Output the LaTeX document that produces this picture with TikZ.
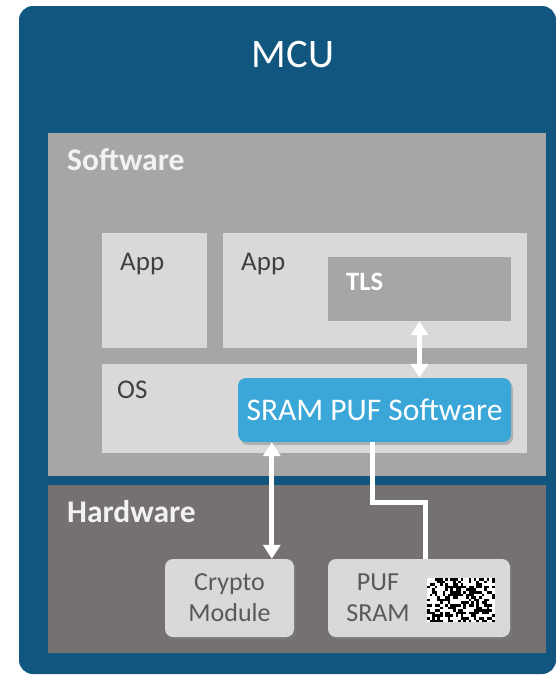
\documentclass[tikz,border=0pt]{standalone}
\usepackage{fontspec}
\setmainfont{Carlito}
\usetikzlibrary{arrows.meta,shadows,calc}
\definecolor{mcublue}{RGB}{17,86,127}
\definecolor{swgray}{RGB}{166,166,166}
\definecolor{hwgray}{RGB}{118,113,113}
\definecolor{boxgray}{RGB}{217,217,217}
\definecolor{txtgray}{RGB}{64,64,64}
\definecolor{modgray}{RGB}{89,89,89}
\definecolor{pufblue}{RGB}{58,167,216}

\tikzset{
  panel/.style={fill=#1, draw=none, inner sep=0pt},
  layer/.style={fill=boxgray, draw=none, inner sep=0pt},
  module/.style={fill=boxgray, draw=none, rounded corners=8pt, inner sep=0pt,
    drop shadow={opacity=0.45, shadow xshift=2pt, shadow yshift=-3pt},
    text=modgray, align=center, font=\fontsize{26}{31}\selectfont},
  tag/.style={anchor=base west, inner sep=0pt, text=txtgray, font=\fontsize{27}{32}\selectfont},
  heading/.style={anchor=base west, inner sep=0pt, text=white!95!black, font=\fontsize{31.5}{38}\selectfont\bfseries},
  wire/.style={draw=white, line width=5pt}
}

\begin{document}
\begin{tikzpicture}[x=1pt,y=-1pt,>={Triangle[width=17pt,length=14pt]}]
\useasboundingbox (0,0) rectangle (555,675);
\fill[white] (0,0) rectangle (555,675);
% MCU frame
\fill[mcublue, rounded corners=14pt] (19,6) rectangle (556,674);
\node[text=white, font=\fontsize{40.5}{48}\selectfont, anchor=base, inner sep=0pt] (mcu) at (293,67) {MCU};

% panels
\node[panel=swgray, minimum width=498, minimum height=343] (sw) at (297,304.5) {};
\node[panel=hwgray, minimum width=498, minimum height=168] (hw) at (297,569) {};
\node[heading] (swlabel) at (67,170) {Software};
\node[heading] (hwlabel) at (67,522) {Hardware};

% software layers
\node[layer, minimum width=105, minimum height=115] (app1) at (154.5,290.5) {};
\node[layer, minimum width=304, minimum height=115] (app2) at (375,290.5) {};
\node[layer, minimum width=425, minimum height=89] (os) at (314.5,408.5) {};
\node[panel=swgray, minimum width=183, minimum height=64] (tls) at (419.5,289) {};
\node[tag] (app1label) at (120,270) {App};
\node[tag] (app2label) at (241,270) {App};
\node[tag] (oslabel) at (117,398) {OS};
\node[anchor=base west, inner sep=0pt, text=white, font=\fontsize{26.5}{32}\selectfont\bfseries] (tlslabel) at (346,290) {TLS};
\node[fill=pufblue, rounded corners=8pt, minimum width=273, minimum height=64, inner sep=0pt,
  drop shadow={opacity=0.45, shadow xshift=2pt, shadow yshift=-3pt},
  text=white, font=\fontsize{31.5}{38}\selectfont] (pufsw) at (374.5,410) {SRAM PUF Software};

% hardware modules
\node[module, minimum width=129, minimum height=78] (crypto) at (229.5,598) {Crypto\\Module};
\node[module, minimum width=182, minimum height=78] (pufsram) at (419,598) {};
\node[text=modgray, align=center, inner sep=0pt, font=\fontsize{26}{31}\selectfont] (pufsramlabel) at (378,598) {PUF\\SRAM};

% SRAM start-up pattern
\fill[white] (427,578) rectangle (495,622);
\pgfmathsetseed{4242}
\foreach \i in {0,...,25}{
  \foreach \j in {0,...,16}{
    \pgfmathrandominteger{\bit}{0}{1}
    \ifnum\bit>0 \fill[black] (427+2.6*\i,578+2.6*\j) rectangle ++(2.6,2.6); \fi
  }
}

% connectors
\coordinate (bend) at (425,502);
\draw[wire, <->] (tls.south) -- (tls.south |- pufsw.north);
\draw[wire, <->] ([xshift=34pt]pufsw.south west) -- ([xshift=34pt]pufsw.south west |- crypto.north);
\draw[wire] ([xshift=135pt]pufsw.south west) |- (bend) -- (bend |- pufsram.north);
\end{tikzpicture}
\end{document}
